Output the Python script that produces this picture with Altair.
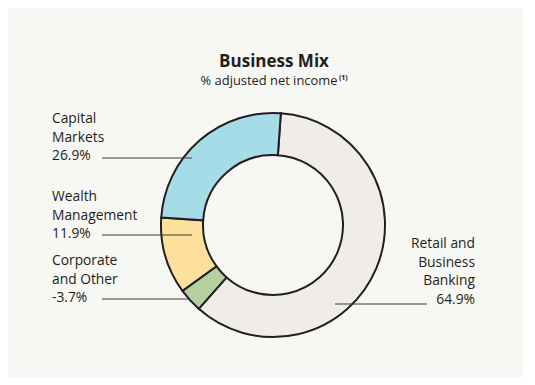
import math
import altair as alt
import pandas as pd

# ---- data ----
categories = ["Retail and Business Banking", "Corporate and Other", "Wealth Management", "Capital Markets"]
label_lines = [["Retail and", "Business", "Banking"], ["Corporate", "and Other"], ["Wealth", "Management"], ["Capital", "Markets"]]
values = [64.9, -3.7, 11.9, 26.9]
colors = ["#f0ecea", "#b6cf9f", "#fee09d", "#a6dbe8"]

df = pd.DataFrame({
    "category": categories,
    "value": values,
    "size": [abs(v) for v in values],
    "order": list(range(len(categories))),
})

# ---- layout (pixel positions inside the chart) ----
W, H = 515, 369
CX, CY = 265, 217
R_OUT, R_IN = 112, 70
START = math.radians(4)
INK = "#231f20"
FONT = "Open Sans"

label_layout = {
    "Capital Markets": dict(x=44, y=115, align="left", rule=(94, 150, 184)),
    "Wealth Management": dict(x=44, y=193, align="left", rule=(94, 227, 184)),
    "Corporate and Other": dict(x=44, y=257, align="left", rule=(94, 291, 182)),
    "Retail and Business Banking": dict(x=467, y=240, align="right", rule=(327, 296, 419)),
}

donut = alt.Chart(df).mark_arc(
    innerRadius=R_IN, outerRadius=R_OUT, stroke=INK, strokeWidth=2
).encode(
    theta=alt.Theta("size:Q", stack=True, scale=alt.Scale(range=[START, START + 2 * math.pi])),
    color=alt.Color("category:N", scale=alt.Scale(domain=categories, range=colors), legend=None),
    order=alt.Order("order:Q"),
    x=alt.value(CX),
    y=alt.value(CY),
)

layers = [donut]
for cat, lines, v in zip(categories, label_lines, values):
    lay = label_layout[cat]
    txt = lines + [f"{v}%"]
    layers.append(
        alt.Chart(df).transform_filter(alt.datum.category == cat).mark_text(
            align=lay["align"], baseline="alphabetic", font=FONT, fontSize=13.8,
            lineHeight=18.5, color=INK
        ).encode(x=alt.value(lay["x"]), y=alt.value(lay["y"]), text=alt.value(txt))
    )
    x1, yy, x2 = lay["rule"]
    layers.append(
        alt.Chart(df).transform_filter(alt.datum.category == cat).mark_rule(
            color="#3a3a3a", strokeWidth=1.2
        ).encode(x=alt.value(x1), x2=alt.value(x2), y=alt.value(yy))
    )

title = alt.Chart(df).transform_filter(alt.datum.order == 0).mark_text(
    font=FONT, fontSize=17, fontWeight="bold", color=INK, align="center", baseline="alphabetic"
).encode(x=alt.value(266), y=alt.value(59), text=alt.value("Business Mix"))
subtitle = alt.Chart(df).transform_filter(alt.datum.order == 0).mark_text(
    font=FONT, fontSize=12.9, color=INK, align="center", baseline="alphabetic"
).encode(x=alt.value(261), y=alt.value(77), text=alt.value("% adjusted net income"))
sup = alt.Chart(df).transform_filter(alt.datum.order == 0).mark_text(
    font=FONT, fontSize=7, fontWeight="bold", color=INK, align="left", baseline="alphabetic"
).encode(x=alt.value(331), y=alt.value(72), text=alt.value("(1)"))

chart = alt.layer(*layers, title, subtitle, sup).properties(
    width=W, height=H,
    autosize=alt.AutoSizeParams(type="none"),
    padding=0,
    background="#f7f7f4",
).configure_view(stroke=None)

chart.save("out.html", embed_options={"renderer": "svg", "actions": False})
